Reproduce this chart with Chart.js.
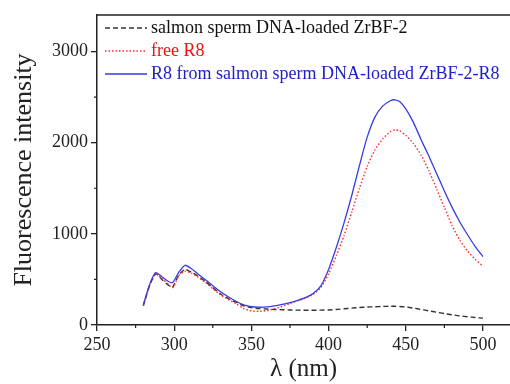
<!DOCTYPE html>
<html>
<head>
<meta charset="utf-8">
<script src="https://cdn.jsdelivr.net/npm/chart.js@4.4.0/dist/chart.umd.min.js"></script>
<style>
  html, body { margin: 0; padding: 0; background: #fff; }
  #wrap { width: 510px; height: 384px; }
</style>
</head>
<body>
<div id="wrap"><canvas id="spectra" width="510" height="384"></canvas></div>
<script>
// wavelength (nm) and fluorescence intensity
const wavelengths = [280, 284, 288, 292, 296, 299, 303, 307, 311, 315, 320, 325, 330, 335, 340, 345,
  350, 355, 360, 365, 370, 375, 380, 385, 390, 395, 400, 405, 410, 415, 420, 425, 430, 435, 440,
  443, 446, 450, 455, 460, 465, 470, 475, 480, 485, 490, 495, 500];

const dnaLoaded = [210, 430, 560, 500, 440, 415, 550, 610, 580, 540, 480, 410, 340, 290, 250, 210,
  190, 180, 175, 170, 168, 165, 163, 162, 162, 163, 165, 170, 178, 185, 192, 197, 200, 204, 205,
  205, 203, 198, 185, 170, 155, 140, 125, 112, 100, 90, 82, 75];

const freeR8 = [210, 430, 560, 510, 450, 410, 540, 590, 570, 530, 470, 400, 330, 280, 235, 180,
  155, 150, 158, 178, 205, 235, 265, 295, 335, 410, 560, 760, 980, 1240, 1500, 1740, 1920, 2040, 2120,
  2140, 2130, 2080, 1990, 1860, 1690, 1490, 1290, 1090, 930, 810, 720, 645];

const releasedR8 = [220, 440, 575, 530, 480, 465, 580, 655, 620, 565, 500, 430, 365, 310, 260, 220,
  200, 195, 198, 210, 225, 245, 270, 300, 345, 430, 610, 850, 1120, 1420, 1750, 2060, 2280, 2400, 2460,
  2470, 2450, 2370, 2220, 2030, 1850, 1660, 1470, 1290, 1130, 990, 860, 750];

const seriesLabels = ['salmon sperm DNA-loaded ZrBF-2', 'free R8', 'R8 from salmon sperm DNA-loaded ZrBF-2-R8'];
const xTicks = [250, 300, 350, 400, 450, 500];
const xMinorTicks = [275, 325, 375, 425, 475];
const yTicks = [0, 1000, 2000, 3000];
const yMinorTicks = [500, 1500, 2500];

const serif = '"Liberation Serif", "Times New Roman", serif';
const axisColor = '#222';

function toPoints(values) {
  return wavelengths.map((w, i) => ({ x: w, y: values[i] }));
}

// legend drawn inside the plot, top-left, text coloured like its line
const insideLegend = {
  id: 'insideLegend',
  afterDatasetsDraw(chart) {
    const { ctx, chartArea } = chart;
    ctx.save();
    ctx.font = '18px ' + serif;
    ctx.textBaseline = 'middle';
    chart.data.datasets.forEach((ds, i) => {
      const y = chartArea.top + 13 + i * 23;
      ctx.strokeStyle = ds.borderColor;
      ctx.lineWidth = ds.borderWidth;
      ctx.setLineDash(ds.borderDash || []);
      ctx.beginPath();
      ctx.moveTo(chartArea.left + 8, y);
      ctx.lineTo(chartArea.left + 50, y);
      ctx.stroke();
      ctx.setLineDash([]);
      ctx.fillStyle = ds.legendColor;
      ctx.fillText(ds.label, chartArea.left + 54, y);
    });
    ctx.restore();
  }
};

// top frame line and the short minor ticks
const frameAndMinor = {
  id: 'frameAndMinor',
  afterDraw(chart) {
    const { ctx, chartArea, scales } = chart;
    ctx.save();
    ctx.strokeStyle = axisColor;
    ctx.lineWidth = 1.5;
    ctx.beginPath();
    ctx.moveTo(chartArea.left, chartArea.top);
    ctx.lineTo(chartArea.right, chartArea.top);
    ctx.stroke();
    ctx.lineWidth = 1.2;
    ctx.beginPath();
    xMinorTicks.forEach(v => {
      const px = scales.x.getPixelForValue(v);
      ctx.moveTo(px, chartArea.bottom);
      ctx.lineTo(px, chartArea.bottom + 3);
    });
    yMinorTicks.forEach(v => {
      const py = scales.y.getPixelForValue(v);
      ctx.moveTo(chartArea.left, py);
      ctx.lineTo(chartArea.left - 3, py);
    });
    ctx.stroke();
    ctx.restore();
  }
};

new Chart(document.getElementById('spectra').getContext('2d'), {
  type: 'line',
  data: {
    datasets: [
      { label: seriesLabels[0], data: toPoints(dnaLoaded), borderColor: '#333', legendColor: '#111',
        borderWidth: 1.4, borderDash: [5, 3], order: 3 },
      { label: seriesLabels[1], data: toPoints(freeR8), borderColor: '#ff2a2a', legendColor: '#f01010',
        borderWidth: 1.4, borderDash: [1.5, 2], order: 2 },
      { label: seriesLabels[2], data: toPoints(releasedR8), borderColor: '#3a3ae0', legendColor: '#2020c8',
        borderWidth: 1.3, order: 1 }
    ]
  },
  options: {
    responsive: false,
    animation: false,
    devicePixelRatio: 1,
    layout: { padding: { top: 15, right: 0, left: 0, bottom: 0 } },
    elements: { point: { radius: 0 }, line: { tension: 0.2, fill: false } },
    plugins: { legend: { display: false }, tooltip: { enabled: false } },
    scales: {
      x: {
        type: 'linear',
        min: 250,
        max: 517.5,
        afterBuildTicks: scale => { scale.ticks = xTicks.map(v => ({ value: v })); },
        afterFit: scale => { scale.height = 59; },
        grid: { display: true, drawOnChartArea: false, drawTicks: true, tickLength: 6, color: axisColor, lineWidth: 1.3 },
        border: { display: true, color: axisColor, width: 1.5 },
        ticks: { padding: 3, color: axisColor, font: { family: serif, size: 18 }, maxRotation: 0,
          callback: v => String(v) },
        title: { display: true, text: 'λ (nm)', color: axisColor, padding: { top: 0, bottom: 2 },
          font: { family: serif, size: 25, lineHeight: 1 } }
      },
      y: {
        min: 0,
        max: 3400,
        afterBuildTicks: scale => { scale.ticks = yTicks.map(v => ({ value: v })); },
        afterFit: scale => { scale.width = 97; },
        grid: { display: true, drawOnChartArea: false, drawTicks: true, tickLength: 6, color: axisColor, lineWidth: 1.3 },
        border: { display: true, color: axisColor, width: 1.5 },
        ticks: { padding: 3, color: axisColor, font: { family: serif, size: 18 }, callback: v => String(v) },
        title: { display: true, text: 'Fluorescence intensity', color: axisColor, padding: { top: 11, bottom: 0 },
          font: { family: serif, size: 26, lineHeight: 1 } }
      }
    }
  },
  plugins: [insideLegend, frameAndMinor]
});
</script>
</body>
</html>
